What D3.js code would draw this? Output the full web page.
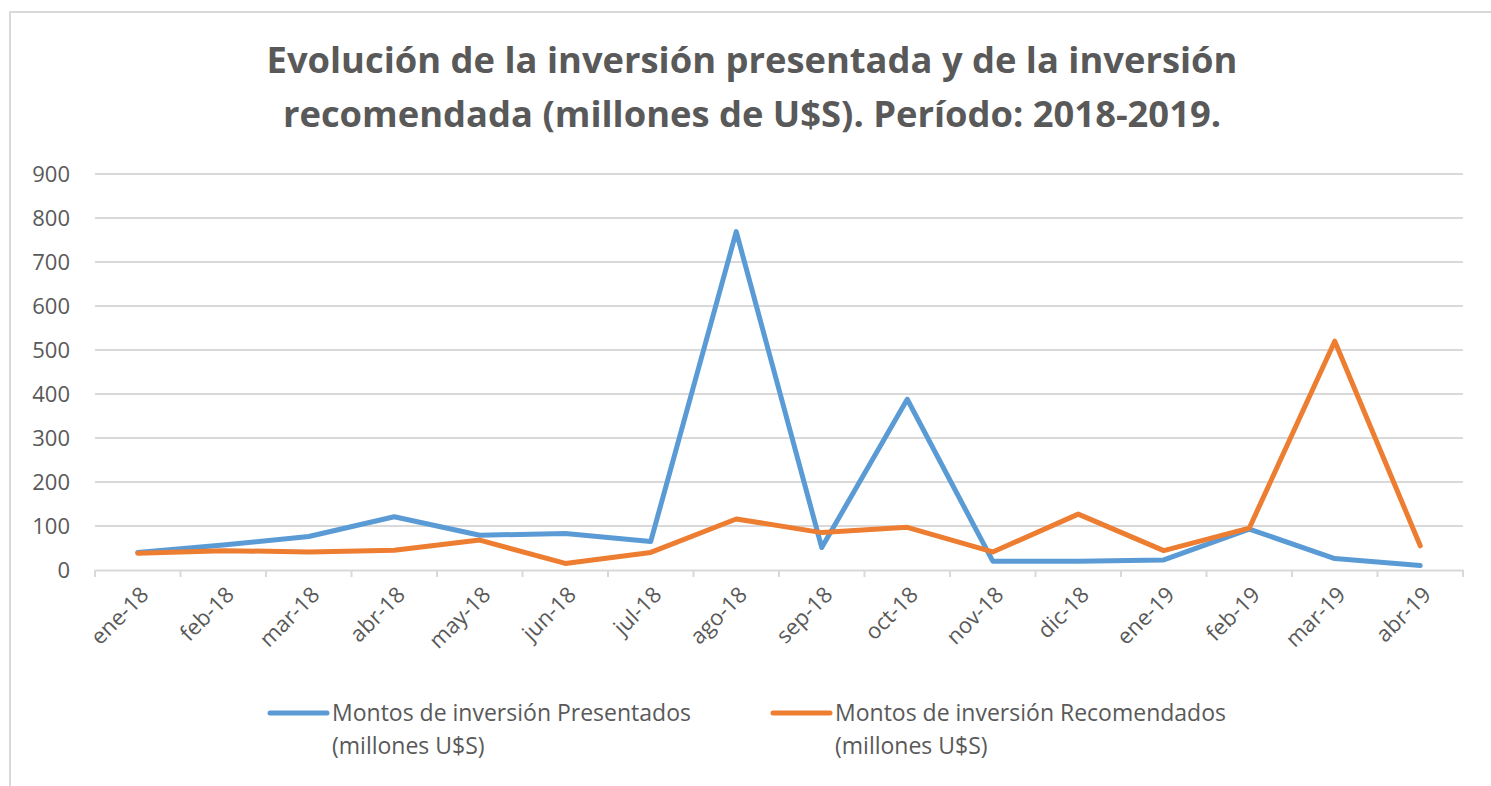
<!DOCTYPE html>
<html>
<head>
<meta charset="utf-8">
<script src="https://cdn.jsdelivr.net/npm/d3@7"></script>
<style>
  body { margin: 0; background: #ffffff; }
  svg { display: block; }
</style>
</head>
<body>
<svg id="chart_svg" width="1491" height="786"></svg>
<script>
// Data ************************************************************************
var months = ["ene-18", "feb-18", "mar-18", "abr-18", "may-18", "jun-18", "jul-18", "ago-18",
              "sep-18", "oct-18", "nov-18", "dic-18", "ene-19", "feb-19", "mar-19", "abr-19"]
var presentados = [40, 57, 76, 121, 79, 83, 65, 769, 51, 388, 20, 20, 23, 93, 26, 10]
var recomendados = [38, 44, 41, 45, 68, 15, 40, 116, 85, 97, 41, 127, 44, 95, 520, 55]
var yTicks = [0, 100, 200, 300, 400, 500, 600, 700, 800, 900]

var seriesNames = ["Montos de inversión Presentados", "Montos de inversión Recomendados"]
var seriesCol = ["#5b9bd5", "#ed7d31"]
var titleLines = ["Evolución de la inversión presentada y de la inversión",
                  "recomendada (millones de U$S). Período: 2018-2019."]

var textCol = "#595959"
var gridCol = "#d9d9d9"
var font = "'Open Sans', 'Noto Sans', sans-serif"

var svg = d3.select("#chart_svg")

// outer frame (only left and top edges show)
svg.append("rect")
    .attr("x", 10)
    .attr("y", 12)
    .attr("width", 1520)
    .attr("height", 820)
    .style("fill", "none")
    .style("stroke", gridCol)
    .style("stroke-width", 2)

// Title ************************************************************************
var titleBase = [73, 127]
for (key in titleLines){
    svg.append("text")
        .attr("class", "title")
        .attr("x", 752)
        .attr("y", titleBase[key])
        .attr("text-anchor", "middle")
        .style("font-family", font)
        .style("font-weight", "bold")
        .style("font-size", "34px")
        .style("fill", textCol)
        .text(titleLines[key])
}
// shrink / grow so first line is as wide as in the picture
var firstW = svg.select(".title").node().getComputedTextLength()
var tSize = 34 * 971 / firstW
svg.selectAll(".title").style("font-size", tSize + "px")

// Scales ***********************************************************************
var x = d3.scaleBand().domain(months).range([95, 1463])
var y = d3.scaleLinear().domain([0, 900]).range([570, 174])

// gridlines
svg.append("g")
    .selectAll("line")
    .data(yTicks.slice(1))
    .join("line")
    .attr("x1", 95)
    .attr("x2", 1463)
    .attr("y1", d => y(d))
    .attr("y2", d => y(d))
    .style("stroke", gridCol)
    .style("stroke-width", 2)

// y axis labels
var yAxis = svg.append("g")
    .attr("transform", "translate(70,0)")
    .call(d3.axisLeft(y).tickValues(yTicks).tickSize(0).tickPadding(0))
yAxis.select(".domain").remove()
yAxis.selectAll("text")
    .style("font-family", font)
    .style("font-size", "22px")
    .style("fill", textCol)

// x axis with ticks at band edges
var xAxis = svg.append("g")
    .attr("transform", "translate(0," + y(0) + ")")
    .call(d3.axisBottom(x).tickSize(0).tickFormat(""))
xAxis.select(".domain").style("stroke", gridCol).style("stroke-width", 2)
svg.append("g")
    .selectAll("line")
    .data(months.concat(["end"]))
    .join("line")
    .attr("x1", (d, i) => 95 + i * x.step())
    .attr("x2", (d, i) => 95 + i * x.step())
    .attr("y1", y(0))
    .attr("y2", y(0) + 7)
    .style("stroke", gridCol)
    .style("stroke-width", 2)

svg.append("g")
    .selectAll("text")
    .data(months)
    .join("text")
    .attr("transform", d => "translate(" + (x(d) + x.bandwidth() / 2 + 8) + "," + (y(0) + 22) + ") rotate(-45)")
    .attr("text-anchor", "end")
    .attr("dominant-baseline", "middle")
    .style("font-family", font)
    .style("font-size", "22px")
    .style("fill", textCol)
    .text(d => d)

// Lines ************************************************************************
var line = d3.line()
    .x((d, i) => x(months[i]) + x.bandwidth() / 2)
    .y(d => y(d))

var allSeries = [presentados, recomendados]
for (key in allSeries){
    svg.append("path")
        .datum(allSeries[key])
        .attr("d", line)
        .style("fill", "none")
        .style("stroke", seriesCol[key])
        .style("stroke-width", 5)
        .style("stroke-linejoin", "round")
        .style("stroke-linecap", "round")
}

// Legend ***********************************************************************
var legX = [270, 773]
for (key in seriesNames){
    svg.append("line")
        .attr("x1", legX[key])
        .attr("x2", legX[key] + 57)
        .attr("y1", 713)
        .attr("y2", 713)
        .style("stroke", seriesCol[key])
        .style("stroke-width", 5)
        .style("stroke-linecap", "round")
    var lt = svg.append("text")
        .attr("x", legX[key] + 62)
        .attr("y", 721)
        .style("font-family", font)
        .style("font-size", "23px")
        .style("fill", textCol)
    lt.append("tspan").text(seriesNames[key])
    lt.append("tspan").attr("x", legX[key] + 62).attr("dy", 33).text("(millones U$S)")
}
</script>
</body>
</html>
